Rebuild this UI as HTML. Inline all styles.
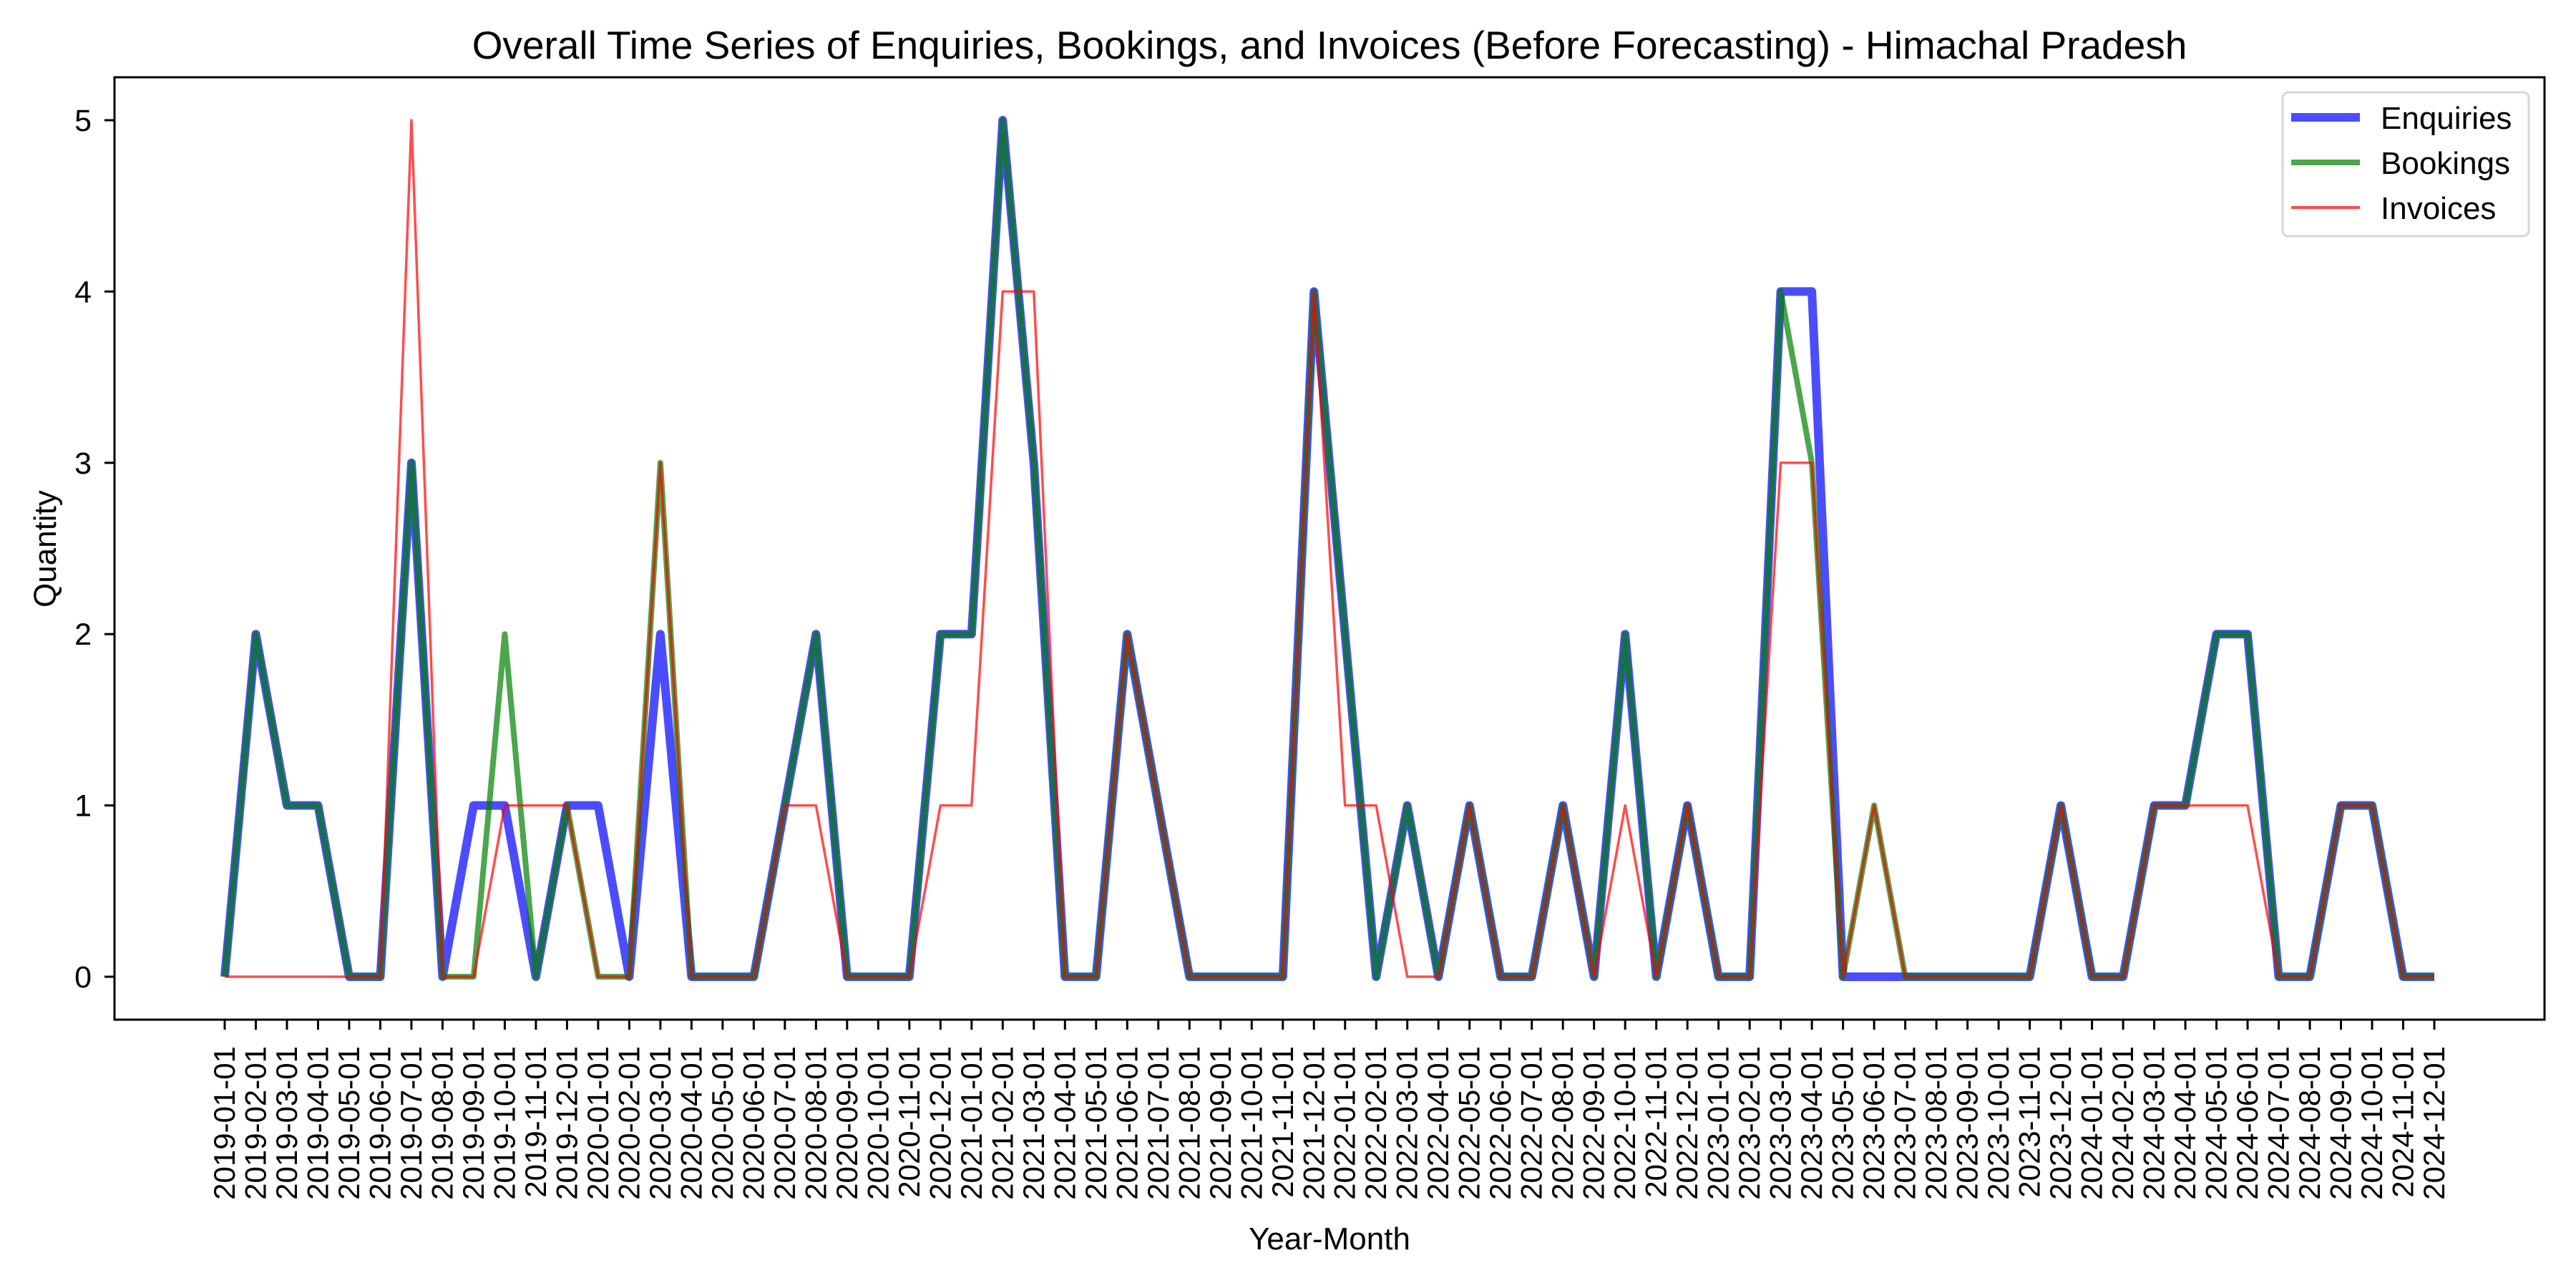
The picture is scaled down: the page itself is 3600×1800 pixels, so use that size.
<!DOCTYPE html>
<html><head><meta charset="utf-8"><style>
html,body{margin:0;padding:0;background:#fff;}
svg{display:block;font-family:"Liberation Sans","DejaVu Sans",sans-serif;}
</style></head><body>
<svg id="chart" width="3600" height="1800" viewBox="0 0 3600 1800" xmlns="http://www.w3.org/2000/svg">
<rect width="3600" height="1800" fill="#fff"/>
<text x="1858" y="82" font-size="55" text-anchor="middle" fill="#000">Overall Time Series of Enquiries, Bookings, and Invoices (Before Forecasting) - Himachal Pradesh</text>
<g id="series"></g>
<rect x="160" y="108" width="3396" height="1317" fill="none" stroke="#000" stroke-width="3"/>
<g id="xticks"></g>
<g id="yticks"></g>
<text x="1858" y="1746" font-size="44" text-anchor="middle">Year-Month</text>
<text x="78" y="767" font-size="44" text-anchor="middle" transform="rotate(-90 78 767)">Quantity</text>
<g>
<rect x="3190" y="129" width="344" height="201" rx="8" fill="#fff" fill-opacity="0.8" stroke="#d6d6d6" stroke-width="3"/>
<line x1="3202" y1="164" x2="3298" y2="164" stroke="blue" stroke-opacity="0.7" stroke-width="12"/>
<text x="3327" y="180" font-size="44">Enquiries</text>
<line x1="3202" y1="227" x2="3298" y2="227" stroke="green" stroke-opacity="0.7" stroke-width="8"/>
<text x="3327" y="243" font-size="44">Bookings</text>
<line x1="3202" y1="290" x2="3298" y2="290" stroke="red" stroke-opacity="0.7" stroke-width="4"/>
<text x="3327" y="306" font-size="44">Invoices</text>
</g>
</svg>
<script>
const startYear = 2019;
const monthCount = 72;
const enquiries = [0,2,1,1,0,0,3,0,1,1,0,1, 1,0,2,0,0,0,1,2,0,0,0,2, 2,5,3,0,0,2,1,0,0,0,0,4, 2,0,1,0,1,0,0,1,0,2,0,1, 0,0,4,4,0,0,0,0,0,0,0,1, 0,0,1,1,2,2,0,0,1,1,0,0];
const bookings  = [0,2,1,1,0,0,3,0,0,2,0,1, 0,0,3,0,0,0,1,2,0,0,0,2, 2,5,3,0,0,2,1,0,0,0,0,4, 2,0,1,0,1,0,0,1,0,2,0,1, 0,0,4,3,0,1,0,0,0,0,0,1, 0,0,1,1,2,2,0,0,1,1,0,0];
const invoices  = [0,0,0,0,0,0,5,0,0,1,1,1, 0,0,3,0,0,0,1,1,0,0,0,1, 1,4,4,0,0,2,1,0,0,0,0,4, 1,1,0,0,1,0,0,1,0,1,0,1, 0,0,3,3,0,1,0,0,0,0,0,1, 0,0,1,1,1,1,0,0,1,1,0,0];
const yTicks = [0,1,2,3,4,5];

const NS = "http://www.w3.org/2000/svg";
const x0 = 314, x1 = 3402, yZero = 1365, yFive = 168;
function xScale(i){ return x0 + (x1 - x0) * i / (monthCount - 1); }
function yScale(v){ return yZero + (yFive - yZero) * v / 5; }
function mk(tag, attrs){ const e = document.createElementNS(NS, tag); for (const k in attrs) e.setAttribute(k, attrs[k]); return e; }

const xt = document.getElementById('xticks');
for (let i = 0; i < monthCount; i++) {
  const y = startYear + Math.floor(i / 12), m = (i % 12) + 1;
  const label = y + '-' + String(m).padStart(2, '0') + '-01';
  const x = xScale(i);
  const t = mk('line', {x1: x, y1: 1425, x2: x, y2: 1439, stroke: '#000', 'stroke-width': 3});
  
  
  xt.appendChild(t);
  const bx = x + 14;
  const tx = mk('text', {x: bx, y: 1462, 'font-size': 42, 'text-anchor': 'end', transform: 'rotate(-90 ' + bx + ' 1462)'});
  tx.textContent = label;
  
  
  xt.appendChild(tx);
}
const yt = document.getElementById('yticks');
yTicks.forEach(v => {
  const y = yScale(v);
  const t = mk('line', {x1: 146, y1: y, x2: 160, y2: y, stroke: '#000', 'stroke-width': 3});
  
  
  yt.appendChild(t);
  const tx = mk('text', {x: 128, y: y + 15, 'font-size': 43, 'text-anchor': 'end'});
  tx.textContent = v;
  
  
  yt.appendChild(tx);
});

const sg = document.getElementById('series');
function drawLine(vals, color, width, name){
  const pts = vals.map((v, i) => xScale(i).toFixed(1) + ',' + yScale(v).toFixed(1)).join(' ');
  const p = mk('polyline', {points: pts, fill: 'none', stroke: color, 'stroke-opacity': 0.7, 'stroke-width': width, 'stroke-linejoin': 'round'});
  
  
  sg.appendChild(p);
}
drawLine(enquiries, 'blue', 12, 'enquiries-line');
drawLine(bookings, 'green', 8, 'bookings-line');
drawLine(invoices, 'red', 3.5, 'invoices-line');
</script>
</body></html>
